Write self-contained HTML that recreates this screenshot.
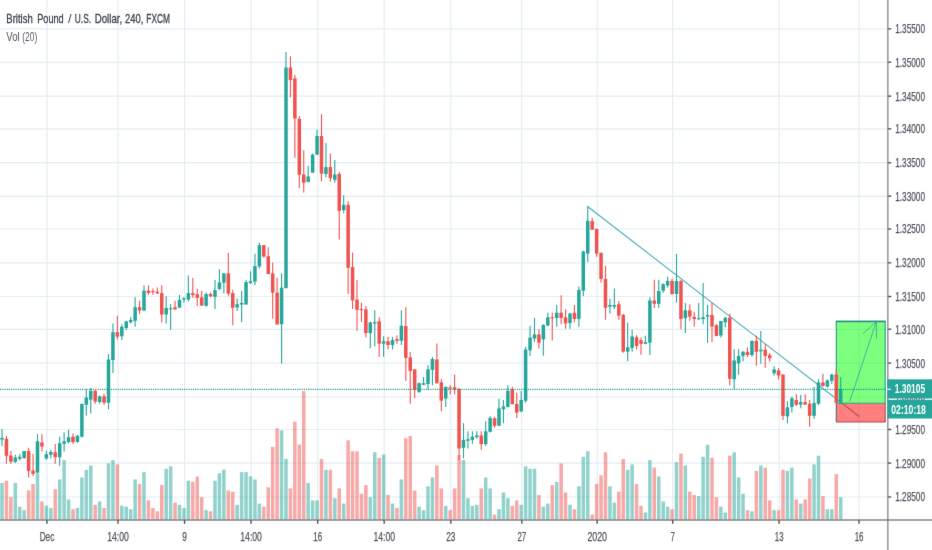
<!DOCTYPE html><html><head><meta charset="utf-8"><title>GBPUSD</title><style>html,body{margin:0;padding:0;background:#fff}svg{display:block}text{font-family:"Liberation Sans",sans-serif}</style></head><body>
<svg width="932" height="550" viewBox="0 0 932 550">
<defs><filter id="soft" x="0" y="0" width="932" height="550" filterUnits="userSpaceOnUse" color-interpolation-filters="sRGB"><feConvolveMatrix order="3" kernelMatrix="0.00490 0.06020 0.00490 0.06020 0.73960 0.06020 0.00490 0.06020 0.00490" divisor="1" edgeMode="duplicate" preserveAlpha="true"/></filter></defs>
<rect width="932" height="550" fill="#fff"/>
<g filter="url(#soft)">
<rect x="-5" y="-5" width="942" height="560" fill="#fff"/>
<g stroke="#e3edf3" stroke-width="1.2">
<line x1="0" y1="28.80" x2="887.85" y2="28.80"/>
<line x1="0" y1="62.30" x2="887.85" y2="62.30"/>
<line x1="0" y1="96.20" x2="887.85" y2="96.20"/>
<line x1="0" y1="128.80" x2="887.85" y2="128.80"/>
<line x1="0" y1="162.70" x2="887.85" y2="162.70"/>
<line x1="0" y1="196.30" x2="887.85" y2="196.30"/>
<line x1="0" y1="229.00" x2="887.85" y2="229.00"/>
<line x1="0" y1="262.80" x2="887.85" y2="262.80"/>
<line x1="0" y1="296.50" x2="887.85" y2="296.50"/>
<line x1="0" y1="329.30" x2="887.85" y2="329.30"/>
<line x1="0" y1="363.20" x2="887.85" y2="363.20"/>
<line x1="0" y1="397.00" x2="887.85" y2="397.00"/>
<line x1="0" y1="429.50" x2="887.85" y2="429.50"/>
<line x1="0" y1="463.20" x2="887.85" y2="463.20"/>
<line x1="0" y1="497.00" x2="887.85" y2="497.00"/>
<line x1="46.98" y1="0" x2="46.98" y2="520.0"/>
<line x1="117.97" y1="0" x2="117.97" y2="520.0"/>
<line x1="184.54" y1="0" x2="184.54" y2="520.0"/>
<line x1="251.10" y1="0" x2="251.10" y2="520.0"/>
<line x1="317.66" y1="0" x2="317.66" y2="520.0"/>
<line x1="384.23" y1="0" x2="384.23" y2="520.0"/>
<line x1="450.79" y1="0" x2="450.79" y2="520.0"/>
<line x1="521.79" y1="0" x2="521.79" y2="520.0"/>
<line x1="597.23" y1="0" x2="597.23" y2="520.0"/>
<line x1="672.66" y1="0" x2="672.66" y2="520.0"/>
<line x1="779.16" y1="0" x2="779.16" y2="520.0"/>
<line x1="859.04" y1="0" x2="859.04" y2="520.0"/>
</g>
<g>
<rect x="0.25" y="483.00" width="3.5" height="36.50" fill="#26a69a" fill-opacity="0.5"/>
<rect x="4.69" y="480.70" width="3.5" height="38.80" fill="#ef5350" fill-opacity="0.5"/>
<rect x="9.12" y="497.10" width="3.5" height="22.40" fill="#ef5350" fill-opacity="0.5"/>
<rect x="13.56" y="483.00" width="3.5" height="36.50" fill="#26a69a" fill-opacity="0.5"/>
<rect x="18.00" y="506.70" width="3.5" height="12.80" fill="#26a69a" fill-opacity="0.5"/>
<rect x="22.44" y="510.20" width="3.5" height="9.30" fill="#26a69a" fill-opacity="0.5"/>
<rect x="26.88" y="490.40" width="3.5" height="29.10" fill="#ef5350" fill-opacity="0.5"/>
<rect x="31.31" y="484.00" width="3.5" height="35.50" fill="#ef5350" fill-opacity="0.5"/>
<rect x="35.75" y="473.50" width="3.5" height="46.00" fill="#26a69a" fill-opacity="0.5"/>
<rect x="40.19" y="501.50" width="3.5" height="18.00" fill="#ef5350" fill-opacity="0.5"/>
<rect x="44.62" y="505.60" width="3.5" height="13.90" fill="#26a69a" fill-opacity="0.5"/>
<rect x="49.06" y="508.00" width="3.5" height="11.50" fill="#26a69a" fill-opacity="0.5"/>
<rect x="53.50" y="489.20" width="3.5" height="30.30" fill="#ef5350" fill-opacity="0.5"/>
<rect x="57.94" y="479.40" width="3.5" height="40.10" fill="#26a69a" fill-opacity="0.5"/>
<rect x="62.38" y="460.10" width="3.5" height="59.40" fill="#26a69a" fill-opacity="0.5"/>
<rect x="66.81" y="499.40" width="3.5" height="20.10" fill="#26a69a" fill-opacity="0.5"/>
<rect x="71.25" y="509.20" width="3.5" height="10.30" fill="#ef5350" fill-opacity="0.5"/>
<rect x="75.69" y="508.00" width="3.5" height="11.50" fill="#26a69a" fill-opacity="0.5"/>
<rect x="80.12" y="477.50" width="3.5" height="42.00" fill="#26a69a" fill-opacity="0.5"/>
<rect x="84.56" y="469.90" width="3.5" height="49.60" fill="#26a69a" fill-opacity="0.5"/>
<rect x="89.00" y="465.50" width="3.5" height="54.00" fill="#26a69a" fill-opacity="0.5"/>
<rect x="93.44" y="504.80" width="3.5" height="14.70" fill="#ef5350" fill-opacity="0.5"/>
<rect x="97.88" y="501.50" width="3.5" height="18.00" fill="#26a69a" fill-opacity="0.5"/>
<rect x="102.31" y="508.00" width="3.5" height="11.50" fill="#ef5350" fill-opacity="0.5"/>
<rect x="106.75" y="463.40" width="3.5" height="56.10" fill="#26a69a" fill-opacity="0.5"/>
<rect x="111.19" y="460.10" width="3.5" height="59.40" fill="#26a69a" fill-opacity="0.5"/>
<rect x="115.62" y="464.40" width="3.5" height="55.10" fill="#ef5350" fill-opacity="0.5"/>
<rect x="120.06" y="505.60" width="3.5" height="13.90" fill="#26a69a" fill-opacity="0.5"/>
<rect x="124.50" y="506.70" width="3.5" height="12.80" fill="#26a69a" fill-opacity="0.5"/>
<rect x="128.94" y="509.20" width="3.5" height="10.30" fill="#26a69a" fill-opacity="0.5"/>
<rect x="133.38" y="479.40" width="3.5" height="40.10" fill="#26a69a" fill-opacity="0.5"/>
<rect x="137.81" y="484.00" width="3.5" height="35.50" fill="#ef5350" fill-opacity="0.5"/>
<rect x="142.25" y="472.10" width="3.5" height="47.40" fill="#26a69a" fill-opacity="0.5"/>
<rect x="146.69" y="500.40" width="3.5" height="19.10" fill="#ef5350" fill-opacity="0.5"/>
<rect x="151.12" y="508.00" width="3.5" height="11.50" fill="#ef5350" fill-opacity="0.5"/>
<rect x="155.56" y="511.30" width="3.5" height="8.20" fill="#ef5350" fill-opacity="0.5"/>
<rect x="160.00" y="485.10" width="3.5" height="34.40" fill="#ef5350" fill-opacity="0.5"/>
<rect x="164.44" y="468.80" width="3.5" height="50.70" fill="#26a69a" fill-opacity="0.5"/>
<rect x="168.88" y="466.30" width="3.5" height="53.20" fill="#26a69a" fill-opacity="0.5"/>
<rect x="173.31" y="502.60" width="3.5" height="16.90" fill="#ef5350" fill-opacity="0.5"/>
<rect x="177.75" y="504.80" width="3.5" height="14.70" fill="#26a69a" fill-opacity="0.5"/>
<rect x="182.19" y="508.00" width="3.5" height="11.50" fill="#26a69a" fill-opacity="0.5"/>
<rect x="186.62" y="480.70" width="3.5" height="38.80" fill="#26a69a" fill-opacity="0.5"/>
<rect x="191.06" y="481.90" width="3.5" height="37.60" fill="#ef5350" fill-opacity="0.5"/>
<rect x="195.50" y="476.50" width="3.5" height="43.00" fill="#ef5350" fill-opacity="0.5"/>
<rect x="199.94" y="497.10" width="3.5" height="22.40" fill="#ef5350" fill-opacity="0.5"/>
<rect x="204.38" y="510.20" width="3.5" height="9.30" fill="#26a69a" fill-opacity="0.5"/>
<rect x="208.81" y="511.30" width="3.5" height="8.20" fill="#ef5350" fill-opacity="0.5"/>
<rect x="213.25" y="480.70" width="3.5" height="38.80" fill="#26a69a" fill-opacity="0.5"/>
<rect x="217.69" y="473.20" width="3.5" height="46.30" fill="#26a69a" fill-opacity="0.5"/>
<rect x="222.12" y="469.60" width="3.5" height="49.90" fill="#26a69a" fill-opacity="0.5"/>
<rect x="226.56" y="490.50" width="3.5" height="29.00" fill="#ef5350" fill-opacity="0.5"/>
<rect x="231.00" y="491.70" width="3.5" height="27.80" fill="#ef5350" fill-opacity="0.5"/>
<rect x="235.44" y="504.80" width="3.5" height="14.70" fill="#26a69a" fill-opacity="0.5"/>
<rect x="239.88" y="472.10" width="3.5" height="47.40" fill="#26a69a" fill-opacity="0.5"/>
<rect x="244.31" y="472.10" width="3.5" height="47.40" fill="#26a69a" fill-opacity="0.5"/>
<rect x="248.75" y="476.50" width="3.5" height="43.00" fill="#26a69a" fill-opacity="0.5"/>
<rect x="253.19" y="479.40" width="3.5" height="40.10" fill="#26a69a" fill-opacity="0.5"/>
<rect x="257.62" y="503.60" width="3.5" height="15.90" fill="#26a69a" fill-opacity="0.5"/>
<rect x="262.06" y="506.70" width="3.5" height="12.80" fill="#ef5350" fill-opacity="0.5"/>
<rect x="266.50" y="487.30" width="3.5" height="32.20" fill="#ef5350" fill-opacity="0.5"/>
<rect x="270.94" y="446.90" width="3.5" height="72.60" fill="#ef5350" fill-opacity="0.5"/>
<rect x="275.38" y="428.30" width="3.5" height="91.20" fill="#ef5350" fill-opacity="0.5"/>
<rect x="279.81" y="430.40" width="3.5" height="89.10" fill="#26a69a" fill-opacity="0.5"/>
<rect x="284.25" y="458.90" width="3.5" height="60.60" fill="#26a69a" fill-opacity="0.5"/>
<rect x="288.69" y="488.40" width="3.5" height="31.10" fill="#ef5350" fill-opacity="0.5"/>
<rect x="293.12" y="421.70" width="3.5" height="97.80" fill="#ef5350" fill-opacity="0.5"/>
<rect x="297.56" y="444.60" width="3.5" height="74.90" fill="#ef5350" fill-opacity="0.5"/>
<rect x="302.00" y="391.10" width="3.5" height="128.40" fill="#ef5350" fill-opacity="0.5"/>
<rect x="306.44" y="483.00" width="3.5" height="36.50" fill="#26a69a" fill-opacity="0.5"/>
<rect x="310.88" y="500.40" width="3.5" height="19.10" fill="#26a69a" fill-opacity="0.5"/>
<rect x="315.31" y="500.40" width="3.5" height="19.10" fill="#26a69a" fill-opacity="0.5"/>
<rect x="319.75" y="459.00" width="3.5" height="60.50" fill="#ef5350" fill-opacity="0.5"/>
<rect x="324.19" y="469.90" width="3.5" height="49.60" fill="#26a69a" fill-opacity="0.5"/>
<rect x="328.62" y="469.90" width="3.5" height="49.60" fill="#ef5350" fill-opacity="0.5"/>
<rect x="333.06" y="498.20" width="3.5" height="21.30" fill="#26a69a" fill-opacity="0.5"/>
<rect x="337.50" y="488.40" width="3.5" height="31.10" fill="#ef5350" fill-opacity="0.5"/>
<rect x="341.94" y="503.60" width="3.5" height="15.90" fill="#26a69a" fill-opacity="0.5"/>
<rect x="346.38" y="440.30" width="3.5" height="79.20" fill="#ef5350" fill-opacity="0.5"/>
<rect x="350.81" y="451.30" width="3.5" height="68.20" fill="#ef5350" fill-opacity="0.5"/>
<rect x="355.25" y="451.30" width="3.5" height="68.20" fill="#ef5350" fill-opacity="0.5"/>
<rect x="359.69" y="493.80" width="3.5" height="25.70" fill="#ef5350" fill-opacity="0.5"/>
<rect x="364.12" y="485.10" width="3.5" height="34.40" fill="#ef5350" fill-opacity="0.5"/>
<rect x="368.56" y="497.10" width="3.5" height="22.40" fill="#26a69a" fill-opacity="0.5"/>
<rect x="373.00" y="452.20" width="3.5" height="67.30" fill="#26a69a" fill-opacity="0.5"/>
<rect x="377.44" y="457.80" width="3.5" height="61.70" fill="#ef5350" fill-opacity="0.5"/>
<rect x="381.88" y="454.50" width="3.5" height="65.00" fill="#26a69a" fill-opacity="0.5"/>
<rect x="386.31" y="495.00" width="3.5" height="24.50" fill="#ef5350" fill-opacity="0.5"/>
<rect x="390.75" y="503.60" width="3.5" height="15.90" fill="#26a69a" fill-opacity="0.5"/>
<rect x="395.19" y="508.00" width="3.5" height="11.50" fill="#ef5350" fill-opacity="0.5"/>
<rect x="399.62" y="479.40" width="3.5" height="40.10" fill="#26a69a" fill-opacity="0.5"/>
<rect x="404.06" y="438.20" width="3.5" height="81.30" fill="#ef5350" fill-opacity="0.5"/>
<rect x="408.50" y="436.10" width="3.5" height="83.40" fill="#ef5350" fill-opacity="0.5"/>
<rect x="412.94" y="490.50" width="3.5" height="29.00" fill="#ef5350" fill-opacity="0.5"/>
<rect x="417.38" y="506.70" width="3.5" height="12.80" fill="#26a69a" fill-opacity="0.5"/>
<rect x="421.81" y="510.20" width="3.5" height="9.30" fill="#26a69a" fill-opacity="0.5"/>
<rect x="426.25" y="486.30" width="3.5" height="33.20" fill="#26a69a" fill-opacity="0.5"/>
<rect x="430.69" y="477.50" width="3.5" height="42.00" fill="#26a69a" fill-opacity="0.5"/>
<rect x="435.12" y="465.50" width="3.5" height="54.00" fill="#ef5350" fill-opacity="0.5"/>
<rect x="439.56" y="488.40" width="3.5" height="31.10" fill="#ef5350" fill-opacity="0.5"/>
<rect x="444.00" y="505.90" width="3.5" height="13.60" fill="#26a69a" fill-opacity="0.5"/>
<rect x="448.44" y="510.20" width="3.5" height="9.30" fill="#ef5350" fill-opacity="0.5"/>
<rect x="452.88" y="488.40" width="3.5" height="31.10" fill="#ef5350" fill-opacity="0.5"/>
<rect x="457.31" y="455.00" width="3.5" height="64.50" fill="#ef5350" fill-opacity="0.5"/>
<rect x="461.75" y="460.10" width="3.5" height="59.40" fill="#26a69a" fill-opacity="0.5"/>
<rect x="466.19" y="498.20" width="3.5" height="21.30" fill="#26a69a" fill-opacity="0.5"/>
<rect x="470.62" y="505.90" width="3.5" height="13.60" fill="#26a69a" fill-opacity="0.5"/>
<rect x="475.06" y="504.80" width="3.5" height="14.70" fill="#26a69a" fill-opacity="0.5"/>
<rect x="479.50" y="488.40" width="3.5" height="31.10" fill="#ef5350" fill-opacity="0.5"/>
<rect x="483.94" y="477.50" width="3.5" height="42.00" fill="#26a69a" fill-opacity="0.5"/>
<rect x="488.38" y="488.40" width="3.5" height="31.10" fill="#26a69a" fill-opacity="0.5"/>
<rect x="492.81" y="514.60" width="3.5" height="4.90" fill="#ef5350" fill-opacity="0.5"/>
<rect x="497.25" y="509.20" width="3.5" height="10.30" fill="#26a69a" fill-opacity="0.5"/>
<rect x="501.69" y="492.50" width="3.5" height="27.00" fill="#26a69a" fill-opacity="0.5"/>
<rect x="506.12" y="498.20" width="3.5" height="21.30" fill="#26a69a" fill-opacity="0.5"/>
<rect x="510.56" y="505.90" width="3.5" height="13.60" fill="#ef5350" fill-opacity="0.5"/>
<rect x="515.00" y="500.40" width="3.5" height="19.10" fill="#ef5350" fill-opacity="0.5"/>
<rect x="519.44" y="504.80" width="3.5" height="14.70" fill="#26a69a" fill-opacity="0.5"/>
<rect x="523.88" y="466.30" width="3.5" height="53.20" fill="#26a69a" fill-opacity="0.5"/>
<rect x="528.31" y="468.80" width="3.5" height="50.70" fill="#26a69a" fill-opacity="0.5"/>
<rect x="532.75" y="468.80" width="3.5" height="50.70" fill="#26a69a" fill-opacity="0.5"/>
<rect x="537.19" y="495.00" width="3.5" height="24.50" fill="#ef5350" fill-opacity="0.5"/>
<rect x="541.62" y="506.70" width="3.5" height="12.80" fill="#26a69a" fill-opacity="0.5"/>
<rect x="546.06" y="503.60" width="3.5" height="15.90" fill="#26a69a" fill-opacity="0.5"/>
<rect x="550.50" y="485.10" width="3.5" height="34.40" fill="#ef5350" fill-opacity="0.5"/>
<rect x="554.94" y="481.90" width="3.5" height="37.60" fill="#26a69a" fill-opacity="0.5"/>
<rect x="559.38" y="463.40" width="3.5" height="56.10" fill="#ef5350" fill-opacity="0.5"/>
<rect x="563.81" y="492.50" width="3.5" height="27.00" fill="#ef5350" fill-opacity="0.5"/>
<rect x="568.25" y="504.80" width="3.5" height="14.70" fill="#26a69a" fill-opacity="0.5"/>
<rect x="572.69" y="509.20" width="3.5" height="10.30" fill="#ef5350" fill-opacity="0.5"/>
<rect x="577.12" y="486.30" width="3.5" height="33.20" fill="#26a69a" fill-opacity="0.5"/>
<rect x="581.56" y="456.80" width="3.5" height="62.70" fill="#26a69a" fill-opacity="0.5"/>
<rect x="586.00" y="451.30" width="3.5" height="68.20" fill="#26a69a" fill-opacity="0.5"/>
<rect x="590.44" y="514.60" width="3.5" height="4.90" fill="#ef5350" fill-opacity="0.5"/>
<rect x="594.88" y="484.00" width="3.5" height="35.50" fill="#ef5350" fill-opacity="0.5"/>
<rect x="599.31" y="475.30" width="3.5" height="44.20" fill="#ef5350" fill-opacity="0.5"/>
<rect x="603.75" y="452.40" width="3.5" height="67.10" fill="#ef5350" fill-opacity="0.5"/>
<rect x="608.19" y="486.30" width="3.5" height="33.20" fill="#26a69a" fill-opacity="0.5"/>
<rect x="612.62" y="502.60" width="3.5" height="16.90" fill="#26a69a" fill-opacity="0.5"/>
<rect x="617.06" y="491.70" width="3.5" height="27.80" fill="#ef5350" fill-opacity="0.5"/>
<rect x="621.50" y="459.00" width="3.5" height="60.50" fill="#ef5350" fill-opacity="0.5"/>
<rect x="625.94" y="469.90" width="3.5" height="49.60" fill="#26a69a" fill-opacity="0.5"/>
<rect x="630.38" y="464.40" width="3.5" height="55.10" fill="#26a69a" fill-opacity="0.5"/>
<rect x="634.81" y="484.00" width="3.5" height="35.50" fill="#ef5350" fill-opacity="0.5"/>
<rect x="639.25" y="505.90" width="3.5" height="13.60" fill="#ef5350" fill-opacity="0.5"/>
<rect x="643.69" y="512.50" width="3.5" height="7.00" fill="#26a69a" fill-opacity="0.5"/>
<rect x="648.12" y="460.10" width="3.5" height="59.40" fill="#26a69a" fill-opacity="0.5"/>
<rect x="652.56" y="467.60" width="3.5" height="51.90" fill="#ef5350" fill-opacity="0.5"/>
<rect x="657.00" y="476.50" width="3.5" height="43.00" fill="#26a69a" fill-opacity="0.5"/>
<rect x="661.44" y="501.50" width="3.5" height="18.00" fill="#26a69a" fill-opacity="0.5"/>
<rect x="665.88" y="506.70" width="3.5" height="12.80" fill="#26a69a" fill-opacity="0.5"/>
<rect x="670.31" y="509.20" width="3.5" height="10.30" fill="#ef5350" fill-opacity="0.5"/>
<rect x="674.75" y="462.20" width="3.5" height="57.30" fill="#26a69a" fill-opacity="0.5"/>
<rect x="679.19" y="453.60" width="3.5" height="65.90" fill="#ef5350" fill-opacity="0.5"/>
<rect x="683.62" y="465.50" width="3.5" height="54.00" fill="#26a69a" fill-opacity="0.5"/>
<rect x="688.06" y="491.70" width="3.5" height="27.80" fill="#ef5350" fill-opacity="0.5"/>
<rect x="692.50" y="495.00" width="3.5" height="24.50" fill="#ef5350" fill-opacity="0.5"/>
<rect x="696.94" y="496.10" width="3.5" height="23.40" fill="#26a69a" fill-opacity="0.5"/>
<rect x="701.38" y="456.80" width="3.5" height="62.70" fill="#26a69a" fill-opacity="0.5"/>
<rect x="705.81" y="444.70" width="3.5" height="74.80" fill="#26a69a" fill-opacity="0.5"/>
<rect x="710.25" y="457.80" width="3.5" height="61.70" fill="#ef5350" fill-opacity="0.5"/>
<rect x="714.69" y="497.10" width="3.5" height="22.40" fill="#ef5350" fill-opacity="0.5"/>
<rect x="719.12" y="506.70" width="3.5" height="12.80" fill="#26a69a" fill-opacity="0.5"/>
<rect x="723.56" y="512.50" width="3.5" height="7.00" fill="#26a69a" fill-opacity="0.5"/>
<rect x="728.00" y="455.70" width="3.5" height="63.80" fill="#ef5350" fill-opacity="0.5"/>
<rect x="732.44" y="452.40" width="3.5" height="67.10" fill="#26a69a" fill-opacity="0.5"/>
<rect x="736.88" y="477.50" width="3.5" height="42.00" fill="#26a69a" fill-opacity="0.5"/>
<rect x="741.31" y="493.80" width="3.5" height="25.70" fill="#26a69a" fill-opacity="0.5"/>
<rect x="745.75" y="510.20" width="3.5" height="9.30" fill="#ef5350" fill-opacity="0.5"/>
<rect x="750.19" y="511.30" width="3.5" height="8.20" fill="#26a69a" fill-opacity="0.5"/>
<rect x="754.62" y="470.90" width="3.5" height="48.60" fill="#ef5350" fill-opacity="0.5"/>
<rect x="759.06" y="465.50" width="3.5" height="54.00" fill="#26a69a" fill-opacity="0.5"/>
<rect x="763.50" y="467.60" width="3.5" height="51.90" fill="#ef5350" fill-opacity="0.5"/>
<rect x="767.94" y="500.40" width="3.5" height="19.10" fill="#ef5350" fill-opacity="0.5"/>
<rect x="772.38" y="510.20" width="3.5" height="9.30" fill="#26a69a" fill-opacity="0.5"/>
<rect x="776.81" y="510.20" width="3.5" height="9.30" fill="#ef5350" fill-opacity="0.5"/>
<rect x="781.25" y="469.90" width="3.5" height="49.60" fill="#ef5350" fill-opacity="0.5"/>
<rect x="785.69" y="470.90" width="3.5" height="48.60" fill="#26a69a" fill-opacity="0.5"/>
<rect x="790.12" y="467.60" width="3.5" height="51.90" fill="#26a69a" fill-opacity="0.5"/>
<rect x="794.56" y="499.40" width="3.5" height="20.10" fill="#ef5350" fill-opacity="0.5"/>
<rect x="799.00" y="503.60" width="3.5" height="15.90" fill="#26a69a" fill-opacity="0.5"/>
<rect x="803.44" y="499.40" width="3.5" height="20.10" fill="#ef5350" fill-opacity="0.5"/>
<rect x="807.88" y="478.60" width="3.5" height="40.90" fill="#ef5350" fill-opacity="0.5"/>
<rect x="812.31" y="464.40" width="3.5" height="55.10" fill="#26a69a" fill-opacity="0.5"/>
<rect x="816.75" y="455.70" width="3.5" height="63.80" fill="#26a69a" fill-opacity="0.5"/>
<rect x="821.19" y="496.10" width="3.5" height="23.40" fill="#ef5350" fill-opacity="0.5"/>
<rect x="825.62" y="509.20" width="3.5" height="10.30" fill="#26a69a" fill-opacity="0.5"/>
<rect x="830.06" y="509.20" width="3.5" height="10.30" fill="#26a69a" fill-opacity="0.5"/>
<rect x="834.50" y="474.20" width="3.5" height="45.30" fill="#ef5350" fill-opacity="0.5"/>
<rect x="838.94" y="497.10" width="3.5" height="22.40" fill="#26a69a" fill-opacity="0.5"/>
</g>
<line x1="587.6" y1="206.5" x2="859.2" y2="416.5" stroke="#45aab6" stroke-width="1.05"/>
<rect x="836.3" y="321.4" width="48.9" height="81.8" fill="#00ff00" fill-opacity="0.5"/>
<rect x="836.3" y="403.2" width="48.9" height="18.8" fill="#ff0000" fill-opacity="0.5"/>
<path d="M836.3 403.2V321.4H885.2V403.2" fill="none" stroke="#2a9a86" stroke-width="1.1"/>
<path d="M835.8 321.5H885.7" fill="none" stroke="#278f80" stroke-width="1.5"/>
<path d="M836.3 403.2H885.2" fill="none" stroke="#2a9a86" stroke-width="0.9"/>
<path d="M836.3 403.2V422" fill="none" stroke="#5a6a6a" stroke-width="1.1"/>
<path d="M836.3 422H885.2V403.2" fill="none" stroke="#b04a4a" stroke-width="1.1"/>
<g>
<line x1="2.00" y1="429.36" x2="2.00" y2="446.05" stroke="#26a69a" stroke-width="1.1"/>
<rect x="0.25" y="437.87" width="3.5" height="1.64" fill="#26a69a"/>
<line x1="6.44" y1="435.90" x2="6.44" y2="463.39" stroke="#ef5350" stroke-width="1.1"/>
<rect x="4.69" y="438.85" width="3.5" height="17.02" fill="#ef5350"/>
<line x1="10.88" y1="451.12" x2="10.88" y2="463.72" stroke="#ef5350" stroke-width="1.1"/>
<rect x="9.12" y="455.54" width="3.5" height="6.22" fill="#ef5350"/>
<line x1="15.31" y1="454.72" x2="15.31" y2="462.90" stroke="#26a69a" stroke-width="1.1"/>
<rect x="13.56" y="457.50" width="3.5" height="4.25" fill="#26a69a"/>
<line x1="19.75" y1="454.23" x2="19.75" y2="460.45" stroke="#26a69a" stroke-width="1.1"/>
<rect x="18.00" y="456.85" width="3.5" height="1.96" fill="#26a69a"/>
<line x1="24.19" y1="451.12" x2="24.19" y2="458.81" stroke="#26a69a" stroke-width="1.1"/>
<rect x="22.44" y="451.12" width="3.5" height="6.87" fill="#26a69a"/>
<line x1="28.62" y1="447.68" x2="28.62" y2="477.62" stroke="#ef5350" stroke-width="1.1"/>
<rect x="26.88" y="451.12" width="3.5" height="19.96" fill="#ef5350"/>
<line x1="33.06" y1="453.90" x2="33.06" y2="475.99" stroke="#ef5350" stroke-width="1.1"/>
<rect x="31.31" y="470.59" width="3.5" height="3.27" fill="#ef5350"/>
<line x1="37.50" y1="434.27" x2="37.50" y2="473.53" stroke="#26a69a" stroke-width="1.1"/>
<rect x="35.75" y="441.30" width="3.5" height="31.41" fill="#26a69a"/>
<line x1="41.94" y1="434.27" x2="41.94" y2="451.45" stroke="#ef5350" stroke-width="1.1"/>
<rect x="40.19" y="442.45" width="3.5" height="4.09" fill="#ef5350"/>
<line x1="46.38" y1="450.96" x2="46.38" y2="459.63" stroke="#26a69a" stroke-width="1.1"/>
<rect x="44.62" y="454.23" width="3.5" height="4.25" fill="#26a69a"/>
<line x1="50.81" y1="449.81" x2="50.81" y2="458.48" stroke="#26a69a" stroke-width="1.1"/>
<rect x="49.06" y="451.94" width="3.5" height="2.78" fill="#26a69a"/>
<line x1="55.25" y1="444.08" x2="55.25" y2="463.72" stroke="#ef5350" stroke-width="1.1"/>
<rect x="53.50" y="452.26" width="3.5" height="4.91" fill="#ef5350"/>
<line x1="59.69" y1="436.72" x2="59.69" y2="465.68" stroke="#26a69a" stroke-width="1.1"/>
<rect x="57.94" y="443.27" width="3.5" height="13.91" fill="#26a69a"/>
<line x1="64.12" y1="432.30" x2="64.12" y2="451.45" stroke="#26a69a" stroke-width="1.1"/>
<rect x="62.38" y="441.30" width="3.5" height="2.45" fill="#26a69a"/>
<line x1="68.56" y1="429.85" x2="68.56" y2="443.27" stroke="#26a69a" stroke-width="1.1"/>
<rect x="66.81" y="437.21" width="3.5" height="4.91" fill="#26a69a"/>
<line x1="73.00" y1="433.45" x2="73.00" y2="444.08" stroke="#ef5350" stroke-width="1.1"/>
<rect x="71.25" y="436.72" width="3.5" height="5.40" fill="#ef5350"/>
<line x1="77.44" y1="435.09" x2="77.44" y2="442.77" stroke="#26a69a" stroke-width="1.1"/>
<rect x="75.69" y="435.90" width="3.5" height="6.05" fill="#26a69a"/>
<line x1="81.88" y1="403.17" x2="81.88" y2="437.53" stroke="#26a69a" stroke-width="1.1"/>
<rect x="80.12" y="403.99" width="3.5" height="32.72" fill="#26a69a"/>
<line x1="86.31" y1="389.27" x2="86.31" y2="415.45" stroke="#26a69a" stroke-width="1.1"/>
<rect x="84.56" y="397.45" width="3.5" height="7.36" fill="#26a69a"/>
<line x1="90.75" y1="387.96" x2="90.75" y2="413.48" stroke="#26a69a" stroke-width="1.1"/>
<rect x="89.00" y="390.90" width="3.5" height="8.67" fill="#26a69a"/>
<line x1="95.19" y1="390.09" x2="95.19" y2="403.66" stroke="#ef5350" stroke-width="1.1"/>
<rect x="93.44" y="390.90" width="3.5" height="10.63" fill="#ef5350"/>
<line x1="99.62" y1="395.48" x2="99.62" y2="403.66" stroke="#26a69a" stroke-width="1.1"/>
<rect x="97.88" y="396.30" width="3.5" height="5.73" fill="#26a69a"/>
<line x1="104.06" y1="393.85" x2="104.06" y2="404.81" stroke="#ef5350" stroke-width="1.1"/>
<rect x="102.31" y="396.30" width="3.5" height="6.38" fill="#ef5350"/>
<line x1="108.50" y1="354.09" x2="108.50" y2="409.23" stroke="#26a69a" stroke-width="1.1"/>
<rect x="106.75" y="359.49" width="3.5" height="43.19" fill="#26a69a"/>
<line x1="112.94" y1="323.54" x2="112.94" y2="373.12" stroke="#26a69a" stroke-width="1.1"/>
<rect x="111.19" y="332.21" width="3.5" height="27.81" fill="#26a69a"/>
<line x1="117.38" y1="315.85" x2="117.38" y2="339.57" stroke="#ef5350" stroke-width="1.1"/>
<rect x="115.62" y="332.21" width="3.5" height="4.42" fill="#ef5350"/>
<line x1="121.81" y1="324.36" x2="121.81" y2="339.90" stroke="#26a69a" stroke-width="1.1"/>
<rect x="120.06" y="326.81" width="3.5" height="9.49" fill="#26a69a"/>
<line x1="126.25" y1="320.76" x2="126.25" y2="330.09" stroke="#26a69a" stroke-width="1.1"/>
<rect x="124.50" y="321.41" width="3.5" height="6.54" fill="#26a69a"/>
<line x1="130.69" y1="317.00" x2="130.69" y2="323.54" stroke="#26a69a" stroke-width="1.1"/>
<rect x="128.94" y="319.94" width="3.5" height="2.29" fill="#26a69a"/>
<line x1="135.12" y1="297.36" x2="135.12" y2="326.81" stroke="#26a69a" stroke-width="1.1"/>
<rect x="133.38" y="307.18" width="3.5" height="13.58" fill="#26a69a"/>
<line x1="139.56" y1="300.63" x2="139.56" y2="313.72" stroke="#ef5350" stroke-width="1.1"/>
<rect x="137.81" y="307.18" width="3.5" height="3.27" fill="#ef5350"/>
<line x1="144.00" y1="285.26" x2="144.00" y2="311.27" stroke="#26a69a" stroke-width="1.1"/>
<rect x="142.25" y="290.66" width="3.5" height="19.79" fill="#26a69a"/>
<line x1="148.44" y1="285.26" x2="148.44" y2="295.08" stroke="#ef5350" stroke-width="1.1"/>
<rect x="146.69" y="290.66" width="3.5" height="2.29" fill="#ef5350"/>
<line x1="152.88" y1="288.53" x2="152.88" y2="294.75" stroke="#ef5350" stroke-width="1.1"/>
<rect x="151.12" y="290.99" width="3.5" height="1.10" fill="#ef5350"/>
<line x1="157.31" y1="287.39" x2="157.31" y2="293.77" stroke="#ef5350" stroke-width="1.1"/>
<rect x="155.56" y="291.81" width="3.5" height="1.64" fill="#ef5350"/>
<line x1="161.75" y1="285.26" x2="161.75" y2="322.40" stroke="#ef5350" stroke-width="1.1"/>
<rect x="160.00" y="293.12" width="3.5" height="21.43" fill="#ef5350"/>
<line x1="166.19" y1="296.22" x2="166.19" y2="323.54" stroke="#26a69a" stroke-width="1.1"/>
<rect x="164.44" y="308.00" width="3.5" height="6.54" fill="#26a69a"/>
<line x1="170.62" y1="303.91" x2="170.62" y2="329.76" stroke="#26a69a" stroke-width="1.1"/>
<rect x="168.88" y="308.32" width="3.5" height="1.10" fill="#26a69a"/>
<line x1="175.06" y1="300.63" x2="175.06" y2="309.96" stroke="#ef5350" stroke-width="1.1"/>
<rect x="173.31" y="307.18" width="3.5" height="2.13" fill="#ef5350"/>
<line x1="179.50" y1="294.91" x2="179.50" y2="308.00" stroke="#26a69a" stroke-width="1.1"/>
<rect x="177.75" y="299.82" width="3.5" height="7.85" fill="#26a69a"/>
<line x1="183.94" y1="297.36" x2="183.94" y2="302.76" stroke="#26a69a" stroke-width="1.1"/>
<rect x="182.19" y="298.18" width="3.5" height="1.31" fill="#26a69a"/>
<line x1="188.38" y1="275.45" x2="188.38" y2="301.45" stroke="#26a69a" stroke-width="1.1"/>
<rect x="186.62" y="293.12" width="3.5" height="6.37" fill="#26a69a"/>
<line x1="192.81" y1="277.90" x2="192.81" y2="297.85" stroke="#ef5350" stroke-width="1.1"/>
<rect x="191.06" y="293.12" width="3.5" height="1.96" fill="#ef5350"/>
<line x1="197.25" y1="288.86" x2="197.25" y2="306.03" stroke="#ef5350" stroke-width="1.1"/>
<rect x="195.50" y="294.26" width="3.5" height="3.59" fill="#ef5350"/>
<line x1="201.69" y1="290.82" x2="201.69" y2="306.03" stroke="#ef5350" stroke-width="1.1"/>
<rect x="199.94" y="297.36" width="3.5" height="8.18" fill="#ef5350"/>
<line x1="206.12" y1="292.45" x2="206.12" y2="306.85" stroke="#26a69a" stroke-width="1.1"/>
<rect x="204.38" y="294.09" width="3.5" height="11.78" fill="#26a69a"/>
<line x1="210.56" y1="292.45" x2="210.56" y2="297.36" stroke="#ef5350" stroke-width="1.1"/>
<rect x="208.81" y="294.09" width="3.5" height="2.13" fill="#ef5350"/>
<line x1="215.00" y1="279.99" x2="215.00" y2="308.95" stroke="#26a69a" stroke-width="1.1"/>
<rect x="213.25" y="290.14" width="3.5" height="6.71" fill="#26a69a"/>
<line x1="219.44" y1="269.36" x2="219.44" y2="290.30" stroke="#26a69a" stroke-width="1.1"/>
<rect x="217.69" y="282.45" width="3.5" height="6.54" fill="#26a69a"/>
<line x1="223.88" y1="272.96" x2="223.88" y2="293.57" stroke="#26a69a" stroke-width="1.1"/>
<rect x="222.12" y="273.45" width="3.5" height="9.33" fill="#26a69a"/>
<line x1="228.31" y1="252.67" x2="228.31" y2="295.86" stroke="#ef5350" stroke-width="1.1"/>
<rect x="226.56" y="273.45" width="3.5" height="20.12" fill="#ef5350"/>
<line x1="232.75" y1="289.81" x2="232.75" y2="325.36" stroke="#ef5350" stroke-width="1.1"/>
<rect x="231.00" y="293.08" width="3.5" height="14.77" fill="#ef5350"/>
<line x1="237.19" y1="298.48" x2="237.19" y2="311.08" stroke="#26a69a" stroke-width="1.1"/>
<rect x="235.44" y="304.21" width="3.5" height="3.27" fill="#26a69a"/>
<line x1="241.62" y1="291.12" x2="241.62" y2="322.09" stroke="#26a69a" stroke-width="1.1"/>
<rect x="239.88" y="302.90" width="3.5" height="1.64" fill="#26a69a"/>
<line x1="246.06" y1="279.99" x2="246.06" y2="304.54" stroke="#26a69a" stroke-width="1.1"/>
<rect x="244.31" y="282.12" width="3.5" height="22.41" fill="#26a69a"/>
<line x1="250.50" y1="271.32" x2="250.50" y2="284.08" stroke="#26a69a" stroke-width="1.1"/>
<rect x="248.75" y="281.30" width="3.5" height="1.64" fill="#26a69a"/>
<line x1="254.94" y1="253.82" x2="254.94" y2="284.90" stroke="#26a69a" stroke-width="1.1"/>
<rect x="253.19" y="266.09" width="3.5" height="15.54" fill="#26a69a"/>
<line x1="259.38" y1="242.85" x2="259.38" y2="268.54" stroke="#26a69a" stroke-width="1.1"/>
<rect x="257.62" y="245.14" width="3.5" height="21.27" fill="#26a69a"/>
<line x1="263.81" y1="245.14" x2="263.81" y2="257.58" stroke="#ef5350" stroke-width="1.1"/>
<rect x="262.06" y="245.14" width="3.5" height="11.45" fill="#ef5350"/>
<line x1="268.25" y1="247.27" x2="268.25" y2="274.27" stroke="#ef5350" stroke-width="1.1"/>
<rect x="266.50" y="256.27" width="3.5" height="17.67" fill="#ef5350"/>
<line x1="272.69" y1="262.49" x2="272.69" y2="318.77" stroke="#ef5350" stroke-width="1.1"/>
<rect x="270.94" y="273.45" width="3.5" height="19.14" fill="#ef5350"/>
<line x1="277.12" y1="277.87" x2="277.12" y2="324.54" stroke="#ef5350" stroke-width="1.1"/>
<rect x="275.38" y="292.59" width="3.5" height="31.95" fill="#ef5350"/>
<line x1="281.56" y1="273.45" x2="281.56" y2="363.48" stroke="#26a69a" stroke-width="1.1"/>
<rect x="279.81" y="287.68" width="3.5" height="36.53" fill="#26a69a"/>
<line x1="286.00" y1="51.94" x2="286.00" y2="288.17" stroke="#26a69a" stroke-width="1.1"/>
<rect x="284.25" y="67.49" width="3.5" height="220.69" fill="#26a69a"/>
<line x1="290.44" y1="56.36" x2="290.44" y2="97.26" stroke="#ef5350" stroke-width="1.1"/>
<rect x="288.69" y="67.49" width="3.5" height="12.60" fill="#ef5350"/>
<line x1="294.88" y1="74.85" x2="294.88" y2="157.63" stroke="#ef5350" stroke-width="1.1"/>
<rect x="293.12" y="78.45" width="3.5" height="40.09" fill="#ef5350"/>
<line x1="299.31" y1="116.08" x2="299.31" y2="187.90" stroke="#ef5350" stroke-width="1.1"/>
<rect x="297.56" y="118.86" width="3.5" height="55.95" fill="#ef5350"/>
<line x1="303.75" y1="150.27" x2="303.75" y2="192.48" stroke="#ef5350" stroke-width="1.1"/>
<rect x="302.00" y="174.48" width="3.5" height="8.18" fill="#ef5350"/>
<line x1="308.19" y1="165.81" x2="308.19" y2="182.50" stroke="#26a69a" stroke-width="1.1"/>
<rect x="306.44" y="176.45" width="3.5" height="5.40" fill="#26a69a"/>
<line x1="312.62" y1="153.54" x2="312.62" y2="172.68" stroke="#26a69a" stroke-width="1.1"/>
<rect x="310.88" y="154.69" width="3.5" height="18.00" fill="#26a69a"/>
<line x1="317.06" y1="129.82" x2="317.06" y2="154.69" stroke="#26a69a" stroke-width="1.1"/>
<rect x="315.31" y="136.03" width="3.5" height="18.65" fill="#26a69a"/>
<line x1="321.50" y1="114.12" x2="321.50" y2="181.35" stroke="#ef5350" stroke-width="1.1"/>
<rect x="319.75" y="136.03" width="3.5" height="37.63" fill="#ef5350"/>
<line x1="325.94" y1="142.91" x2="325.94" y2="177.26" stroke="#26a69a" stroke-width="1.1"/>
<rect x="324.19" y="167.12" width="3.5" height="6.87" fill="#26a69a"/>
<line x1="330.38" y1="153.54" x2="330.38" y2="181.85" stroke="#ef5350" stroke-width="1.1"/>
<rect x="328.62" y="167.12" width="3.5" height="10.96" fill="#ef5350"/>
<line x1="334.81" y1="160.09" x2="334.81" y2="182.66" stroke="#26a69a" stroke-width="1.1"/>
<rect x="333.06" y="174.48" width="3.5" height="5.24" fill="#26a69a"/>
<line x1="339.25" y1="172.03" x2="339.25" y2="239.50" stroke="#ef5350" stroke-width="1.1"/>
<rect x="337.50" y="173.99" width="3.5" height="36.88" fill="#ef5350"/>
<line x1="343.69" y1="195.26" x2="343.69" y2="213.32" stroke="#26a69a" stroke-width="1.1"/>
<rect x="341.94" y="204.82" width="3.5" height="5.24" fill="#26a69a"/>
<line x1="348.12" y1="201.32" x2="348.12" y2="293.82" stroke="#ef5350" stroke-width="1.1"/>
<rect x="346.38" y="204.82" width="3.5" height="62.99" fill="#ef5350"/>
<line x1="352.56" y1="252.59" x2="352.56" y2="309.03" stroke="#ef5350" stroke-width="1.1"/>
<rect x="350.81" y="266.99" width="3.5" height="33.37" fill="#ef5350"/>
<line x1="357.00" y1="279.91" x2="357.00" y2="330.63" stroke="#ef5350" stroke-width="1.1"/>
<rect x="355.25" y="299.54" width="3.5" height="10.31" fill="#ef5350"/>
<line x1="361.44" y1="302.81" x2="361.44" y2="322.12" stroke="#ef5350" stroke-width="1.1"/>
<rect x="359.69" y="309.03" width="3.5" height="1.15" fill="#ef5350"/>
<line x1="365.88" y1="306.09" x2="365.88" y2="337.50" stroke="#ef5350" stroke-width="1.1"/>
<rect x="364.12" y="309.36" width="3.5" height="23.72" fill="#ef5350"/>
<line x1="370.31" y1="321.63" x2="370.31" y2="348.30" stroke="#26a69a" stroke-width="1.1"/>
<rect x="368.56" y="322.45" width="3.5" height="10.63" fill="#26a69a"/>
<line x1="374.75" y1="310.18" x2="374.75" y2="346.17" stroke="#26a69a" stroke-width="1.1"/>
<rect x="373.00" y="322.12" width="3.5" height="1.31" fill="#26a69a"/>
<line x1="379.19" y1="317.21" x2="379.19" y2="356.81" stroke="#ef5350" stroke-width="1.1"/>
<rect x="377.44" y="321.30" width="3.5" height="22.41" fill="#ef5350"/>
<line x1="383.62" y1="336.35" x2="383.62" y2="356.81" stroke="#26a69a" stroke-width="1.1"/>
<rect x="381.88" y="341.26" width="3.5" height="2.45" fill="#26a69a"/>
<line x1="388.06" y1="336.85" x2="388.06" y2="349.44" stroke="#ef5350" stroke-width="1.1"/>
<rect x="386.31" y="341.26" width="3.5" height="3.76" fill="#ef5350"/>
<line x1="392.50" y1="336.85" x2="392.50" y2="349.44" stroke="#26a69a" stroke-width="1.1"/>
<rect x="390.75" y="340.12" width="3.5" height="4.91" fill="#26a69a"/>
<line x1="396.94" y1="335.21" x2="396.94" y2="343.72" stroke="#ef5350" stroke-width="1.1"/>
<rect x="395.19" y="339.14" width="3.5" height="1.64" fill="#ef5350"/>
<line x1="401.38" y1="310.18" x2="401.38" y2="345.03" stroke="#26a69a" stroke-width="1.1"/>
<rect x="399.62" y="325.72" width="3.5" height="15.05" fill="#26a69a"/>
<line x1="405.81" y1="307.23" x2="405.81" y2="380.76" stroke="#ef5350" stroke-width="1.1"/>
<rect x="404.06" y="326.05" width="3.5" height="31.81" fill="#ef5350"/>
<line x1="410.25" y1="351.96" x2="410.25" y2="403.66" stroke="#ef5350" stroke-width="1.1"/>
<rect x="408.50" y="357.36" width="3.5" height="13.58" fill="#ef5350"/>
<line x1="414.69" y1="369.31" x2="414.69" y2="398.27" stroke="#ef5350" stroke-width="1.1"/>
<rect x="412.94" y="369.31" width="3.5" height="20.78" fill="#ef5350"/>
<line x1="419.12" y1="382.40" x2="419.12" y2="392.54" stroke="#26a69a" stroke-width="1.1"/>
<rect x="417.38" y="383.21" width="3.5" height="9.00" fill="#26a69a"/>
<line x1="423.56" y1="377.00" x2="423.56" y2="385.18" stroke="#26a69a" stroke-width="1.1"/>
<rect x="421.81" y="383.21" width="3.5" height="1.64" fill="#26a69a"/>
<line x1="428.00" y1="365.22" x2="428.00" y2="389.76" stroke="#26a69a" stroke-width="1.1"/>
<rect x="426.25" y="369.31" width="3.5" height="14.73" fill="#26a69a"/>
<line x1="432.44" y1="357.04" x2="432.44" y2="385.18" stroke="#26a69a" stroke-width="1.1"/>
<rect x="430.69" y="359.00" width="3.5" height="10.96" fill="#26a69a"/>
<line x1="436.88" y1="343.39" x2="436.88" y2="383.54" stroke="#ef5350" stroke-width="1.1"/>
<rect x="435.12" y="359.49" width="3.5" height="23.72" fill="#ef5350"/>
<line x1="441.31" y1="379.12" x2="441.31" y2="411.35" stroke="#ef5350" stroke-width="1.1"/>
<rect x="439.56" y="382.40" width="3.5" height="18.32" fill="#ef5350"/>
<line x1="445.75" y1="386.81" x2="445.75" y2="406.94" stroke="#26a69a" stroke-width="1.1"/>
<rect x="444.00" y="386.81" width="3.5" height="11.78" fill="#26a69a"/>
<line x1="450.19" y1="385.18" x2="450.19" y2="394.18" stroke="#ef5350" stroke-width="1.1"/>
<rect x="448.44" y="387.30" width="3.5" height="1.15" fill="#ef5350"/>
<line x1="454.62" y1="374.54" x2="454.62" y2="394.18" stroke="#ef5350" stroke-width="1.1"/>
<rect x="452.88" y="387.30" width="3.5" height="1.96" fill="#ef5350"/>
<line x1="459.06" y1="387.96" x2="459.06" y2="459.99" stroke="#ef5350" stroke-width="1.1"/>
<rect x="457.31" y="388.94" width="3.5" height="59.60" fill="#ef5350"/>
<line x1="463.50" y1="423.18" x2="463.50" y2="458.36" stroke="#26a69a" stroke-width="1.1"/>
<rect x="461.75" y="439.87" width="3.5" height="7.85" fill="#26a69a"/>
<line x1="467.94" y1="431.36" x2="467.94" y2="448.54" stroke="#26a69a" stroke-width="1.1"/>
<rect x="466.19" y="439.21" width="3.5" height="1.64" fill="#26a69a"/>
<line x1="472.38" y1="431.36" x2="472.38" y2="443.63" stroke="#26a69a" stroke-width="1.1"/>
<rect x="470.62" y="436.76" width="3.5" height="3.11" fill="#26a69a"/>
<line x1="476.81" y1="431.36" x2="476.81" y2="438.72" stroke="#26a69a" stroke-width="1.1"/>
<rect x="475.06" y="435.45" width="3.5" height="1.64" fill="#26a69a"/>
<line x1="481.25" y1="431.36" x2="481.25" y2="449.85" stroke="#ef5350" stroke-width="1.1"/>
<rect x="479.50" y="435.45" width="3.5" height="8.67" fill="#ef5350"/>
<line x1="485.69" y1="421.22" x2="485.69" y2="446.09" stroke="#26a69a" stroke-width="1.1"/>
<rect x="483.94" y="431.36" width="3.5" height="12.76" fill="#26a69a"/>
<line x1="490.12" y1="416.26" x2="490.12" y2="432.62" stroke="#26a69a" stroke-width="1.1"/>
<rect x="488.38" y="417.90" width="3.5" height="13.91" fill="#26a69a"/>
<line x1="494.56" y1="417.08" x2="494.56" y2="427.39" stroke="#ef5350" stroke-width="1.1"/>
<rect x="492.81" y="418.39" width="3.5" height="7.36" fill="#ef5350"/>
<line x1="499.00" y1="398.76" x2="499.00" y2="425.75" stroke="#26a69a" stroke-width="1.1"/>
<rect x="497.25" y="408.41" width="3.5" height="17.34" fill="#26a69a"/>
<line x1="503.44" y1="399.90" x2="503.44" y2="423.30" stroke="#26a69a" stroke-width="1.1"/>
<rect x="501.69" y="406.45" width="3.5" height="2.78" fill="#26a69a"/>
<line x1="507.88" y1="385.18" x2="507.88" y2="407.59" stroke="#26a69a" stroke-width="1.1"/>
<rect x="506.12" y="390.90" width="3.5" height="16.03" fill="#26a69a"/>
<line x1="512.31" y1="386.81" x2="512.31" y2="404.81" stroke="#ef5350" stroke-width="1.1"/>
<rect x="510.56" y="389.27" width="3.5" height="14.73" fill="#ef5350"/>
<line x1="516.75" y1="392.87" x2="516.75" y2="417.90" stroke="#ef5350" stroke-width="1.1"/>
<rect x="515.00" y="403.99" width="3.5" height="8.67" fill="#ef5350"/>
<line x1="521.19" y1="390.90" x2="521.19" y2="412.17" stroke="#26a69a" stroke-width="1.1"/>
<rect x="519.44" y="399.90" width="3.5" height="11.45" fill="#26a69a"/>
<line x1="525.62" y1="346.75" x2="525.62" y2="402.68" stroke="#26a69a" stroke-width="1.1"/>
<rect x="523.88" y="349.54" width="3.5" height="51.18" fill="#26a69a"/>
<line x1="530.06" y1="325.81" x2="530.06" y2="356.08" stroke="#26a69a" stroke-width="1.1"/>
<rect x="528.31" y="337.59" width="3.5" height="12.76" fill="#26a69a"/>
<line x1="534.50" y1="317.96" x2="534.50" y2="341.85" stroke="#26a69a" stroke-width="1.1"/>
<rect x="532.75" y="334.48" width="3.5" height="4.09" fill="#26a69a"/>
<line x1="538.94" y1="329.08" x2="538.94" y2="348.39" stroke="#ef5350" stroke-width="1.1"/>
<rect x="537.19" y="334.48" width="3.5" height="8.18" fill="#ef5350"/>
<line x1="543.38" y1="324.18" x2="543.38" y2="355.75" stroke="#26a69a" stroke-width="1.1"/>
<rect x="541.62" y="324.99" width="3.5" height="14.40" fill="#26a69a"/>
<line x1="547.81" y1="312.72" x2="547.81" y2="326.30" stroke="#26a69a" stroke-width="1.1"/>
<rect x="546.06" y="317.30" width="3.5" height="8.18" fill="#26a69a"/>
<line x1="552.25" y1="312.72" x2="552.25" y2="340.54" stroke="#ef5350" stroke-width="1.1"/>
<rect x="550.50" y="317.30" width="3.5" height="1.10" fill="#ef5350"/>
<line x1="556.69" y1="305.03" x2="556.69" y2="326.63" stroke="#26a69a" stroke-width="1.1"/>
<rect x="554.94" y="312.72" width="3.5" height="5.24" fill="#26a69a"/>
<line x1="561.12" y1="295.22" x2="561.12" y2="324.18" stroke="#ef5350" stroke-width="1.1"/>
<rect x="559.38" y="312.72" width="3.5" height="5.24" fill="#ef5350"/>
<line x1="565.56" y1="309.45" x2="565.56" y2="328.76" stroke="#ef5350" stroke-width="1.1"/>
<rect x="563.81" y="317.30" width="3.5" height="6.05" fill="#ef5350"/>
<line x1="570.00" y1="312.72" x2="570.00" y2="328.76" stroke="#26a69a" stroke-width="1.1"/>
<rect x="568.25" y="313.54" width="3.5" height="9.49" fill="#26a69a"/>
<line x1="574.44" y1="305.03" x2="574.44" y2="322.21" stroke="#ef5350" stroke-width="1.1"/>
<rect x="572.69" y="312.72" width="3.5" height="6.22" fill="#ef5350"/>
<line x1="578.88" y1="286.54" x2="578.88" y2="326.63" stroke="#26a69a" stroke-width="1.1"/>
<rect x="577.12" y="289.82" width="3.5" height="29.12" fill="#26a69a"/>
<line x1="583.31" y1="250.63" x2="583.31" y2="296.03" stroke="#26a69a" stroke-width="1.1"/>
<rect x="581.56" y="251.45" width="3.5" height="39.19" fill="#26a69a"/>
<line x1="587.75" y1="206.45" x2="587.75" y2="262.08" stroke="#26a69a" stroke-width="1.1"/>
<rect x="586.00" y="220.85" width="3.5" height="32.72" fill="#26a69a"/>
<line x1="592.19" y1="217.91" x2="592.19" y2="229.69" stroke="#ef5350" stroke-width="1.1"/>
<rect x="590.44" y="221.18" width="3.5" height="8.51" fill="#ef5350"/>
<line x1="596.62" y1="228.87" x2="596.62" y2="256.85" stroke="#ef5350" stroke-width="1.1"/>
<rect x="594.88" y="228.87" width="3.5" height="24.71" fill="#ef5350"/>
<line x1="601.06" y1="252.76" x2="601.06" y2="282.53" stroke="#ef5350" stroke-width="1.1"/>
<rect x="599.31" y="252.76" width="3.5" height="26.18" fill="#ef5350"/>
<line x1="605.50" y1="265.68" x2="605.50" y2="319.76" stroke="#ef5350" stroke-width="1.1"/>
<rect x="603.75" y="278.93" width="3.5" height="28.88" fill="#ef5350"/>
<line x1="609.94" y1="298.82" x2="609.94" y2="313.54" stroke="#26a69a" stroke-width="1.1"/>
<rect x="608.19" y="305.03" width="3.5" height="1.64" fill="#26a69a"/>
<line x1="614.38" y1="288.51" x2="614.38" y2="309.12" stroke="#26a69a" stroke-width="1.1"/>
<rect x="612.62" y="305.03" width="3.5" height="1.64" fill="#26a69a"/>
<line x1="618.81" y1="300.94" x2="618.81" y2="319.76" stroke="#ef5350" stroke-width="1.1"/>
<rect x="617.06" y="304.21" width="3.5" height="11.45" fill="#ef5350"/>
<line x1="623.25" y1="314.03" x2="623.25" y2="352.81" stroke="#ef5350" stroke-width="1.1"/>
<rect x="621.50" y="314.85" width="3.5" height="36.81" fill="#ef5350"/>
<line x1="627.69" y1="322.54" x2="627.69" y2="361.32" stroke="#26a69a" stroke-width="1.1"/>
<rect x="625.94" y="347.41" width="3.5" height="4.25" fill="#26a69a"/>
<line x1="632.12" y1="329.90" x2="632.12" y2="351.66" stroke="#26a69a" stroke-width="1.1"/>
<rect x="630.38" y="336.45" width="3.5" height="11.45" fill="#26a69a"/>
<line x1="636.56" y1="335.30" x2="636.56" y2="349.54" stroke="#ef5350" stroke-width="1.1"/>
<rect x="634.81" y="337.26" width="3.5" height="8.67" fill="#ef5350"/>
<line x1="641.00" y1="337.59" x2="641.00" y2="354.77" stroke="#ef5350" stroke-width="1.1"/>
<rect x="639.25" y="340.21" width="3.5" height="3.60" fill="#ef5350"/>
<line x1="645.44" y1="335.63" x2="645.44" y2="344.14" stroke="#26a69a" stroke-width="1.1"/>
<rect x="643.69" y="342.17" width="3.5" height="1.64" fill="#26a69a"/>
<line x1="649.88" y1="297.26" x2="649.88" y2="354.93" stroke="#26a69a" stroke-width="1.1"/>
<rect x="648.12" y="300.54" width="3.5" height="42.13" fill="#26a69a"/>
<line x1="654.31" y1="279.76" x2="654.31" y2="307.90" stroke="#ef5350" stroke-width="1.1"/>
<rect x="652.56" y="300.54" width="3.5" height="3.27" fill="#ef5350"/>
<line x1="658.75" y1="279.76" x2="658.75" y2="307.90" stroke="#26a69a" stroke-width="1.1"/>
<rect x="657.00" y="291.05" width="3.5" height="12.76" fill="#26a69a"/>
<line x1="663.19" y1="283.36" x2="663.19" y2="292.68" stroke="#26a69a" stroke-width="1.1"/>
<rect x="661.44" y="284.18" width="3.5" height="6.54" fill="#26a69a"/>
<line x1="667.62" y1="276.81" x2="667.62" y2="287.45" stroke="#26a69a" stroke-width="1.1"/>
<rect x="665.88" y="280.90" width="3.5" height="4.58" fill="#26a69a"/>
<line x1="672.06" y1="278.94" x2="672.06" y2="294.81" stroke="#ef5350" stroke-width="1.1"/>
<rect x="670.31" y="280.90" width="3.5" height="13.09" fill="#ef5350"/>
<line x1="676.50" y1="253.91" x2="676.50" y2="302.66" stroke="#26a69a" stroke-width="1.1"/>
<rect x="674.75" y="280.90" width="3.5" height="13.09" fill="#26a69a"/>
<line x1="680.94" y1="280.09" x2="680.94" y2="329.17" stroke="#ef5350" stroke-width="1.1"/>
<rect x="679.19" y="280.90" width="3.5" height="38.12" fill="#ef5350"/>
<line x1="685.38" y1="302.99" x2="685.38" y2="333.00" stroke="#26a69a" stroke-width="1.1"/>
<rect x="683.62" y="310.35" width="3.5" height="7.85" fill="#26a69a"/>
<line x1="689.81" y1="304.14" x2="689.81" y2="320.66" stroke="#ef5350" stroke-width="1.1"/>
<rect x="688.06" y="310.35" width="3.5" height="6.22" fill="#ef5350"/>
<line x1="694.25" y1="311.99" x2="694.25" y2="326.39" stroke="#ef5350" stroke-width="1.1"/>
<rect x="692.50" y="316.90" width="3.5" height="2.13" fill="#ef5350"/>
<line x1="698.69" y1="302.99" x2="698.69" y2="319.84" stroke="#26a69a" stroke-width="1.1"/>
<rect x="696.94" y="318.21" width="3.5" height="1.15" fill="#26a69a"/>
<line x1="703.12" y1="283.03" x2="703.12" y2="324.26" stroke="#26a69a" stroke-width="1.1"/>
<rect x="701.38" y="317.23" width="3.5" height="1.80" fill="#26a69a"/>
<line x1="707.56" y1="305.12" x2="707.56" y2="342.81" stroke="#26a69a" stroke-width="1.1"/>
<rect x="705.81" y="314.93" width="3.5" height="1.64" fill="#26a69a"/>
<line x1="712.00" y1="302.99" x2="712.00" y2="342.00" stroke="#ef5350" stroke-width="1.1"/>
<rect x="710.25" y="314.93" width="3.5" height="11.52" fill="#ef5350"/>
<line x1="716.44" y1="324.26" x2="716.44" y2="336.27" stroke="#ef5350" stroke-width="1.1"/>
<rect x="714.69" y="325.08" width="3.5" height="10.86" fill="#ef5350"/>
<line x1="720.88" y1="320.99" x2="720.88" y2="337.58" stroke="#26a69a" stroke-width="1.1"/>
<rect x="719.12" y="320.99" width="3.5" height="14.46" fill="#26a69a"/>
<line x1="725.31" y1="316.90" x2="725.31" y2="327.53" stroke="#26a69a" stroke-width="1.1"/>
<rect x="723.56" y="317.72" width="3.5" height="4.58" fill="#26a69a"/>
<line x1="729.75" y1="313.63" x2="729.75" y2="385.35" stroke="#ef5350" stroke-width="1.1"/>
<rect x="728.00" y="317.72" width="3.5" height="61.09" fill="#ef5350"/>
<line x1="734.19" y1="349.36" x2="734.19" y2="388.95" stroke="#26a69a" stroke-width="1.1"/>
<rect x="732.44" y="360.48" width="3.5" height="18.82" fill="#26a69a"/>
<line x1="738.62" y1="349.36" x2="738.62" y2="374.72" stroke="#26a69a" stroke-width="1.1"/>
<rect x="736.88" y="355.90" width="3.5" height="7.36" fill="#26a69a"/>
<line x1="743.06" y1="350.99" x2="743.06" y2="361.30" stroke="#26a69a" stroke-width="1.1"/>
<rect x="741.31" y="351.81" width="3.5" height="4.09" fill="#26a69a"/>
<line x1="747.50" y1="347.40" x2="747.50" y2="357.21" stroke="#ef5350" stroke-width="1.1"/>
<rect x="745.75" y="351.81" width="3.5" height="3.27" fill="#ef5350"/>
<line x1="751.94" y1="340.85" x2="751.94" y2="356.72" stroke="#26a69a" stroke-width="1.1"/>
<rect x="750.19" y="340.85" width="3.5" height="14.23" fill="#26a69a"/>
<line x1="756.38" y1="335.45" x2="756.38" y2="365.72" stroke="#ef5350" stroke-width="1.1"/>
<rect x="754.62" y="340.85" width="3.5" height="10.96" fill="#ef5350"/>
<line x1="760.81" y1="331.03" x2="760.81" y2="363.76" stroke="#26a69a" stroke-width="1.1"/>
<rect x="759.06" y="349.69" width="3.5" height="1.64" fill="#26a69a"/>
<line x1="765.25" y1="344.12" x2="765.25" y2="367.68" stroke="#ef5350" stroke-width="1.1"/>
<rect x="763.50" y="349.69" width="3.5" height="6.22" fill="#ef5350"/>
<line x1="769.69" y1="352.96" x2="769.69" y2="361.63" stroke="#ef5350" stroke-width="1.1"/>
<rect x="767.94" y="355.09" width="3.5" height="3.27" fill="#ef5350"/>
<line x1="774.12" y1="366.13" x2="774.12" y2="375.45" stroke="#26a69a" stroke-width="1.1"/>
<rect x="772.38" y="369.40" width="3.5" height="3.93" fill="#26a69a"/>
<line x1="778.56" y1="368.09" x2="778.56" y2="379.54" stroke="#ef5350" stroke-width="1.1"/>
<rect x="776.81" y="370.54" width="3.5" height="4.91" fill="#ef5350"/>
<line x1="783.00" y1="374.31" x2="783.00" y2="420.12" stroke="#ef5350" stroke-width="1.1"/>
<rect x="781.25" y="374.63" width="3.5" height="41.23" fill="#ef5350"/>
<line x1="787.44" y1="401.30" x2="787.44" y2="423.39" stroke="#26a69a" stroke-width="1.1"/>
<rect x="785.69" y="407.36" width="3.5" height="9.00" fill="#26a69a"/>
<line x1="791.88" y1="396.39" x2="791.88" y2="412.59" stroke="#26a69a" stroke-width="1.1"/>
<rect x="790.12" y="398.36" width="3.5" height="8.67" fill="#26a69a"/>
<line x1="796.31" y1="394.27" x2="796.31" y2="405.72" stroke="#ef5350" stroke-width="1.1"/>
<rect x="794.56" y="399.99" width="3.5" height="4.91" fill="#ef5350"/>
<line x1="800.75" y1="395.09" x2="800.75" y2="408.17" stroke="#26a69a" stroke-width="1.1"/>
<rect x="799.00" y="402.12" width="3.5" height="2.45" fill="#26a69a"/>
<line x1="805.19" y1="394.27" x2="805.19" y2="404.90" stroke="#ef5350" stroke-width="1.1"/>
<rect x="803.44" y="402.12" width="3.5" height="2.45" fill="#ef5350"/>
<line x1="809.62" y1="399.99" x2="809.62" y2="426.66" stroke="#ef5350" stroke-width="1.1"/>
<rect x="807.88" y="403.76" width="3.5" height="12.11" fill="#ef5350"/>
<line x1="814.06" y1="386.90" x2="814.06" y2="418.81" stroke="#26a69a" stroke-width="1.1"/>
<rect x="812.31" y="402.94" width="3.5" height="12.93" fill="#26a69a"/>
<line x1="818.50" y1="379.21" x2="818.50" y2="404.90" stroke="#26a69a" stroke-width="1.1"/>
<rect x="816.75" y="382.49" width="3.5" height="21.27" fill="#26a69a"/>
<line x1="822.94" y1="373.82" x2="822.94" y2="386.41" stroke="#ef5350" stroke-width="1.1"/>
<rect x="821.19" y="382.49" width="3.5" height="3.60" fill="#ef5350"/>
<line x1="827.38" y1="379.54" x2="827.38" y2="387.40" stroke="#26a69a" stroke-width="1.1"/>
<rect x="825.62" y="380.36" width="3.5" height="6.22" fill="#26a69a"/>
<line x1="831.81" y1="373.82" x2="831.81" y2="384.12" stroke="#26a69a" stroke-width="1.1"/>
<rect x="830.06" y="374.63" width="3.5" height="6.22" fill="#26a69a"/>
<line x1="836.25" y1="368.91" x2="836.25" y2="402.77" stroke="#ef5350" stroke-width="1.1"/>
<rect x="834.50" y="374.63" width="3.5" height="28.14" fill="#ef5350"/>
<line x1="840.69" y1="377.09" x2="840.69" y2="403.76" stroke="#26a69a" stroke-width="1.1"/>
<rect x="838.94" y="389.03" width="3.5" height="14.73" fill="#26a69a"/>
</g>
<line x1="0" y1="389.4" x2="887.85" y2="389.4" stroke="#12988a" stroke-width="1.35" stroke-dasharray="1.109 1.109"/>
<g stroke="#38a69c" stroke-width="0.85" fill="none"><line x1="849.7" y1="401.6" x2="876.3" y2="321.6"/><line x1="876.3" y1="321.6" x2="863" y2="333.7"/><line x1="876.3" y1="321.6" x2="876.6" y2="338.7"/></g>
<rect x="887.2" y="0" width="1.3" height="550" fill="#84848c"/>
<rect x="0" y="519.35" width="932" height="1.3" fill="#70707a"/>
<g fill="#50535e" stroke="#50535e" stroke-width="0.25" font-size="12.7px">
<rect x="888.45" y="28.25" width="2.6" height="1.1" fill="#444"/>
<text x="895.2" y="33.20" textLength="29.8" lengthAdjust="spacingAndGlyphs">1.35500</text>
<rect x="888.45" y="61.75" width="2.6" height="1.1" fill="#444"/>
<text x="895.2" y="66.70" textLength="29.8" lengthAdjust="spacingAndGlyphs">1.35000</text>
<rect x="888.45" y="95.65" width="2.6" height="1.1" fill="#444"/>
<text x="895.2" y="100.60" textLength="29.8" lengthAdjust="spacingAndGlyphs">1.34500</text>
<rect x="888.45" y="128.25" width="2.6" height="1.1" fill="#444"/>
<text x="895.2" y="133.20" textLength="29.8" lengthAdjust="spacingAndGlyphs">1.34000</text>
<rect x="888.45" y="162.15" width="2.6" height="1.1" fill="#444"/>
<text x="895.2" y="167.10" textLength="29.8" lengthAdjust="spacingAndGlyphs">1.33500</text>
<rect x="888.45" y="195.75" width="2.6" height="1.1" fill="#444"/>
<text x="895.2" y="200.70" textLength="29.8" lengthAdjust="spacingAndGlyphs">1.33000</text>
<rect x="888.45" y="228.45" width="2.6" height="1.1" fill="#444"/>
<text x="895.2" y="233.40" textLength="29.8" lengthAdjust="spacingAndGlyphs">1.32500</text>
<rect x="888.45" y="262.25" width="2.6" height="1.1" fill="#444"/>
<text x="895.2" y="267.20" textLength="29.8" lengthAdjust="spacingAndGlyphs">1.32000</text>
<rect x="888.45" y="295.95" width="2.6" height="1.1" fill="#444"/>
<text x="895.2" y="300.90" textLength="29.8" lengthAdjust="spacingAndGlyphs">1.31500</text>
<rect x="888.45" y="328.75" width="2.6" height="1.1" fill="#444"/>
<text x="895.2" y="333.70" textLength="29.8" lengthAdjust="spacingAndGlyphs">1.31000</text>
<rect x="888.45" y="362.65" width="2.6" height="1.1" fill="#444"/>
<text x="895.2" y="367.60" textLength="29.8" lengthAdjust="spacingAndGlyphs">1.30500</text>
<rect x="888.45" y="396.45" width="2.6" height="1.1" fill="#444"/>
<text x="895.2" y="401.40" textLength="29.8" lengthAdjust="spacingAndGlyphs">1.30000</text>
<rect x="888.45" y="428.95" width="2.6" height="1.1" fill="#444"/>
<text x="895.2" y="433.90" textLength="29.8" lengthAdjust="spacingAndGlyphs">1.29500</text>
<rect x="888.45" y="462.65" width="2.6" height="1.1" fill="#444"/>
<text x="895.2" y="467.60" textLength="29.8" lengthAdjust="spacingAndGlyphs">1.29000</text>
<rect x="888.45" y="496.45" width="2.6" height="1.1" fill="#444"/>
<text x="895.2" y="501.40" textLength="29.8" lengthAdjust="spacingAndGlyphs">1.28500</text>
</g>
<g fill="#50535e" stroke="#50535e" stroke-width="0.25" font-size="12.7px" text-anchor="middle">
<rect x="46.43" y="520.6" width="1.1" height="3.2" fill="#444"/>
<text x="46.98" y="541.2" textLength="14.6" lengthAdjust="spacingAndGlyphs">Dec</text>
<rect x="117.42" y="520.6" width="1.1" height="3.2" fill="#444"/>
<text x="117.97" y="541.2" textLength="21.6" lengthAdjust="spacingAndGlyphs">14:00</text>
<rect x="183.99" y="520.6" width="1.1" height="3.2" fill="#444"/>
<text x="184.54" y="541.2" textLength="4.6" lengthAdjust="spacingAndGlyphs">9</text>
<rect x="250.55" y="520.6" width="1.1" height="3.2" fill="#444"/>
<text x="251.10" y="541.2" textLength="21.6" lengthAdjust="spacingAndGlyphs">14:00</text>
<rect x="317.11" y="520.6" width="1.1" height="3.2" fill="#444"/>
<text x="317.66" y="541.2" textLength="8.8" lengthAdjust="spacingAndGlyphs">16</text>
<rect x="383.68" y="520.6" width="1.1" height="3.2" fill="#444"/>
<text x="384.23" y="541.2" textLength="21.6" lengthAdjust="spacingAndGlyphs">14:00</text>
<rect x="450.24" y="520.6" width="1.1" height="3.2" fill="#444"/>
<text x="450.79" y="541.2" textLength="9.2" lengthAdjust="spacingAndGlyphs">23</text>
<rect x="521.24" y="520.6" width="1.1" height="3.2" fill="#444"/>
<text x="521.79" y="541.2" textLength="8.8" lengthAdjust="spacingAndGlyphs">27</text>
<rect x="596.68" y="520.6" width="1.1" height="3.2" fill="#444"/>
<text x="597.23" y="541.2" textLength="19.6" lengthAdjust="spacingAndGlyphs">2020</text>
<rect x="672.11" y="520.6" width="1.1" height="3.2" fill="#444"/>
<text x="672.66" y="541.2" textLength="4.4" lengthAdjust="spacingAndGlyphs">7</text>
<rect x="778.61" y="520.6" width="1.1" height="3.2" fill="#444"/>
<text x="779.16" y="541.2" textLength="8.8" lengthAdjust="spacingAndGlyphs">13</text>
<rect x="858.49" y="520.6" width="1.1" height="3.2" fill="#444"/>
<text x="859.04" y="541.2" textLength="8.8" lengthAdjust="spacingAndGlyphs">16</text>
</g>
<rect x="887.3" y="379.3" width="45" height="19.2" fill="#26a69a"/>
<rect x="887.3" y="399.8" width="45" height="18.7" fill="#26a69a"/>
<rect x="886.6" y="388.7" width="4.2" height="1.1" fill="#fff"/>
<g fill="#fff" font-size="12.2px" font-weight="bold">
<text x="894.8" y="393.1" textLength="30.3" lengthAdjust="spacingAndGlyphs">1.30105</text>
<text x="891.3" y="413.6" textLength="34.6" lengthAdjust="spacingAndGlyphs">02:10:18</text>
</g>
<g font-size="12.8px" fill="#363c47" stroke="#363c47" stroke-width="0.3" opacity="0.99">
<text x="6.3" y="22.6" textLength="26.5" lengthAdjust="spacingAndGlyphs">British</text>
<text x="37.2" y="22.6" textLength="26.5" lengthAdjust="spacingAndGlyphs">Pound</text>
<text x="67.9" y="22.6" textLength="3.6" lengthAdjust="spacingAndGlyphs" stroke="none">/</text>
<text x="74.8" y="22.6" textLength="16.2" lengthAdjust="spacingAndGlyphs">U.S.</text>
<text x="94.7" y="22.6" textLength="27.5" lengthAdjust="spacingAndGlyphs">Dollar,</text>
<text x="125.1" y="22.6" textLength="18.3" lengthAdjust="spacingAndGlyphs">240,</text>
<text x="146.3" y="22.6" textLength="23.7" lengthAdjust="spacingAndGlyphs">FXCM</text>
</g>
<g font-size="12.8px" fill="#4d535e" opacity="0.99">
<text x="6.3" y="40.8" textLength="13.4" lengthAdjust="spacingAndGlyphs">Vol</text>
<text x="22.2" y="40.8" textLength="15" lengthAdjust="spacingAndGlyphs">(20)</text>
</g>
</g></svg></body></html>
